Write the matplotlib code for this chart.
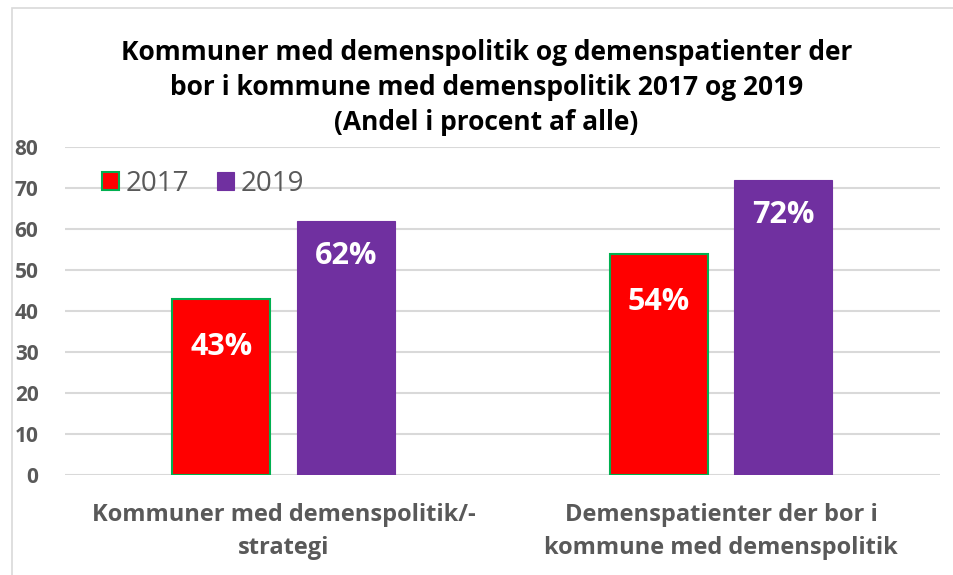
import matplotlib
matplotlib.use("Agg")
import matplotlib.pyplot as plt
from matplotlib.patches import Rectangle
import numpy as np

plt.rcParams['font.family'] = ['Open Sans', 'DejaVu Sans']

# data
kategorier = ['Kommuner med demenspolitik/-\nstrategi',
              'Demenspatienter der bor i\nkommune med demenspolitik']
aar = ['2017', '2019']
vaerdier_2017 = [43, 54]
vaerdier_2019 = [62, 72]
y_ticks = [0, 10, 20, 30, 40, 50, 60, 70, 80]

titel = ('Kommuner med demenspolitik og demenspatienter der\n'
         'bor i kommune med demenspolitik 2017 og 2019\n'
         '(Andel i procent af alle)')

fig = plt.figure(figsize=(9.54, 5.75), dpi=100)
ax = fig.add_axes([0.068, 0.174, 0.917, 0.570])

x = np.arange(len(kategorier))
bredde = 0.224
afstand = 0.142

b1 = ax.bar(x - afstand, vaerdier_2017, bredde, color='#FF0000',
            edgecolor='#00B050', linewidth=1.5, label=aar[0], zorder=3)
b2 = ax.bar(x + afstand, vaerdier_2019, bredde, color='#7030A0',
            edgecolor='#7030A0', linewidth=0.8, label=aar[1], zorder=3)

# labels inde i toppen af søjlerne
for rect, v in zip(b1, vaerdier_2017):
    ax.annotate('%d%%' % v, (rect.get_x() + rect.get_width() / 2, v),
                xytext=(0, -35), textcoords='offset points',
                ha='center', va='center', color='white',
                fontsize=22, fontweight='bold', zorder=4)
for rect, v in zip(b2, vaerdier_2019):
    ax.annotate('%d%%' % v, (rect.get_x() + rect.get_width() / 2, v),
                xytext=(0, -25), textcoords='offset points',
                ha='center', va='center', color='white',
                fontsize=22, fontweight='bold', zorder=4)

ax.set_xlim(-0.5, 1.5)
ax.set_ylim(0, 80)
ax.set_yticks(y_ticks)
ax.set_xticks(x)
ax.set_xticklabels(kategorier, fontsize=17, fontweight='bold',
                   color='#595959', linespacing=1.5)
ax.tick_params(axis='x', length=0, pad=20)
ax.tick_params(axis='y', length=0, pad=19, labelsize=15, labelcolor='#595959')
for t in ax.get_yticklabels():
    t.set_fontweight('bold')

ax.grid(axis='y', color='#D9D9D9', linewidth=1.5, zorder=0)
for s in ax.spines.values():
    s.set_visible(False)

leg = ax.legend(loc='upper left', bbox_to_anchor=(0.03, 0.965), ncol=2,
                frameon=False, fontsize=20, handlelength=0.6,
                handleheight=0.6, handletextpad=0.25, columnspacing=1.0,
                borderaxespad=0)
for t in leg.get_texts():
    t.set_color('#595959')

fig.text(0.510, 0.847, titel, ha='center', va='center', fontsize=19,
         fontweight='bold', color='black', linespacing=1.38)

# ramme om diagrammet
fig.patches.append(Rectangle((12 / 954, -0.1), 2, 1.1 - 8 / 575,
                             transform=fig.transFigure, fill=False,
                             edgecolor='#D9D9D9', linewidth=1.2))

fig.savefig('out.png', dpi=100)
